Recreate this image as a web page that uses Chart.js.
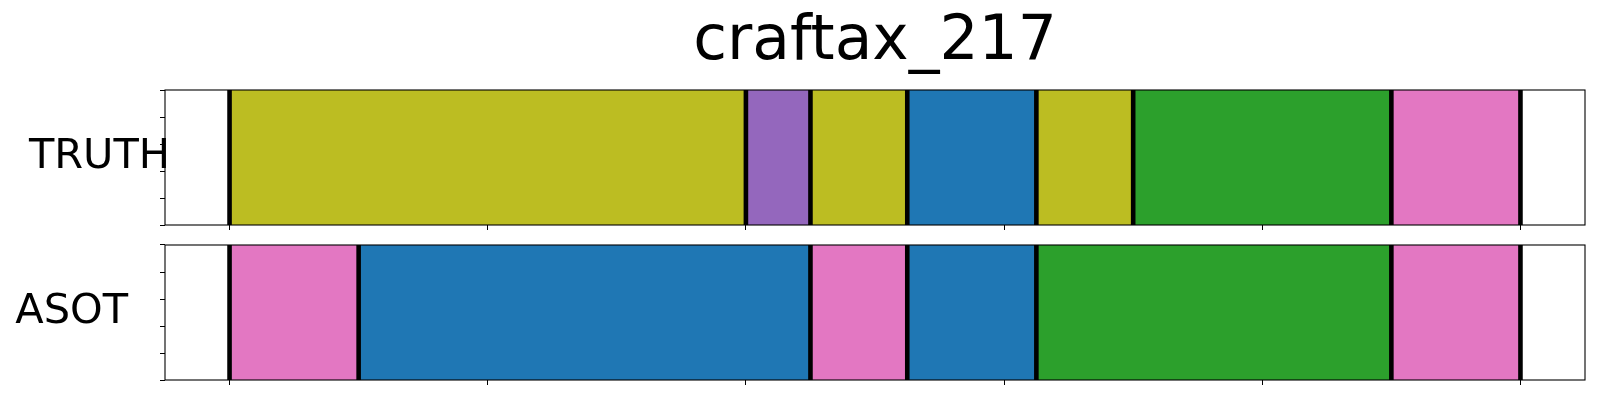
<!DOCTYPE html>
<html>
<head>
<meta charset="utf-8">
<script src="https://cdn.jsdelivr.net/npm/chart.js@4.4.1/dist/chart.umd.min.js"></script>
<style>
  html, body { margin: 0; padding: 0; background: #fff; }
  #wrap { position: relative; width: 1600px; height: 400px; }
  canvas { position: absolute; left: 0; }
</style>
</head>
<body>
<div id="wrap">
  <canvas id="c1" width="1600" height="235" style="top:0px"></canvas>
  <canvas id="c2" width="1600" height="165" style="top:235px"></canvas>
</div>
<script>
const titleText = 'craftax_217';
const rowLabels = ['TRUTH', 'ASOT'];
const xTicks = [0, 8, 16, 24, 32, 40];
const xMin = -2;
const xMax = 42;
const truthBounds = [0, 16, 18, 21, 25, 28, 36, 40];
const truthClasses = ['olive', 'purple', 'olive', 'blue', 'olive', 'green', 'pink'];
const asotBounds = [0, 4, 18, 21, 25, 36, 40];
const asotClasses = ['pink', 'blue', 'pink', 'blue', 'green', 'pink'];
const palette = { olive: '#bcbd22', purple: '#9467bd', blue: '#1f77b4', green: '#2ca02c', pink: '#e377c2' };

const FONT = '"DejaVu Sans", sans-serif';

const boundaryPlugin = {
  id: 'boundaries',
  afterDatasetsDraw(chart, args, opts) {
    const { ctx, chartArea } = chart;
    const xs = chart.scales.x;
    ctx.save();
    ctx.strokeStyle = '#000';
    ctx.lineWidth = 4.6;
    for (const b of opts.bounds) {
      const px = xs.getPixelForValue(b);
      ctx.beginPath();
      ctx.moveTo(px, chartArea.top);
      ctx.lineTo(px, chartArea.bottom);
      ctx.stroke();
    }
    ctx.lineWidth = 1.1;
    ctx.strokeRect(chartArea.left, chartArea.top, chartArea.right - chartArea.left, chartArea.bottom - chartArea.top);
    // row label
    ctx.fillStyle = '#000';
    ctx.font = '41.5px ' + FONT;
    ctx.textAlign = 'right';
    ctx.textBaseline = 'middle';
    const cy = (chartArea.top + chartArea.bottom) / 2 - 0.5;
    ctx.fillText(opts.label, opts.labelRight, cy);
    ctx.restore();
  }
};

function makeChart(id, label, bounds, classes, cfg) {
  const data = [];
  for (let i = 0; i < classes.length; i++) {
    data.push({ x: [bounds[i], bounds[i + 1]], y: label });
  }
  return new Chart(document.getElementById(id), {
    type: 'bar',
    data: {
      labels: [label],
      datasets: [{
        data: data,
        xAxisID: 'x',
        yAxisID: 'y',
        backgroundColor: classes.map(c => palette[c]),
        borderWidth: 0,
        barPercentage: 1,
        categoryPercentage: 1,
        grouped: false
      }]
    },
    plugins: [boundaryPlugin],
    options: {
      indexAxis: 'y',
      responsive: false,
      animation: false,
      layout: { padding: { left: 160, right: 15, top: cfg.padTop, bottom: 0 } },
      plugins: {
        legend: { display: false },
        tooltip: { enabled: false },
        boundaries: { bounds: bounds, label: label, labelRight: cfg.labelRight },
        title: cfg.title ? {
          display: true,
          text: titleText,
          fullSize: false,
          color: '#000',
          font: { family: FONT, size: 61.5, weight: 'normal', lineHeight: 1 },
          padding: { top: 12, bottom: 16.5 }
        } : { display: false }
      },
      scales: {
        x: {
          type: 'linear',
          min: xMin,
          max: xMax,
          afterBuildTicks: s => { s.ticks = xTicks.map(v => ({ value: v })); },
          afterFit: s => { s.height = cfg.xHeight; },
          ticks: { display: false },
          grid: { drawOnChartArea: false, color: '#000', tickLength: 5, lineWidth: 1 },
          border: { display: false }
        },
        y: {
          type: 'category',
          display: false
        },
        yt: {
          type: 'linear',
          position: 'left',
          min: 0,
          max: 1,
          ticks: { display: false, stepSize: 0.25 },
          afterFit: s => { s.width = 5; },
          grid: { drawOnChartArea: false, color: '#000', tickLength: 5, lineWidth: 1 },
          border: { display: false }
        }
      }
    }
  });
}

makeChart('c1', rowLabels[0], truthBounds, truthClasses, { padTop: 0, xHeight: 10, title: true, labelRight: 170 });
makeChart('c2', rowLabels[1], asotBounds, asotClasses, { padTop: 10, xHeight: 20, title: false, labelRight: 128 });
</script>
</body>
</html>
